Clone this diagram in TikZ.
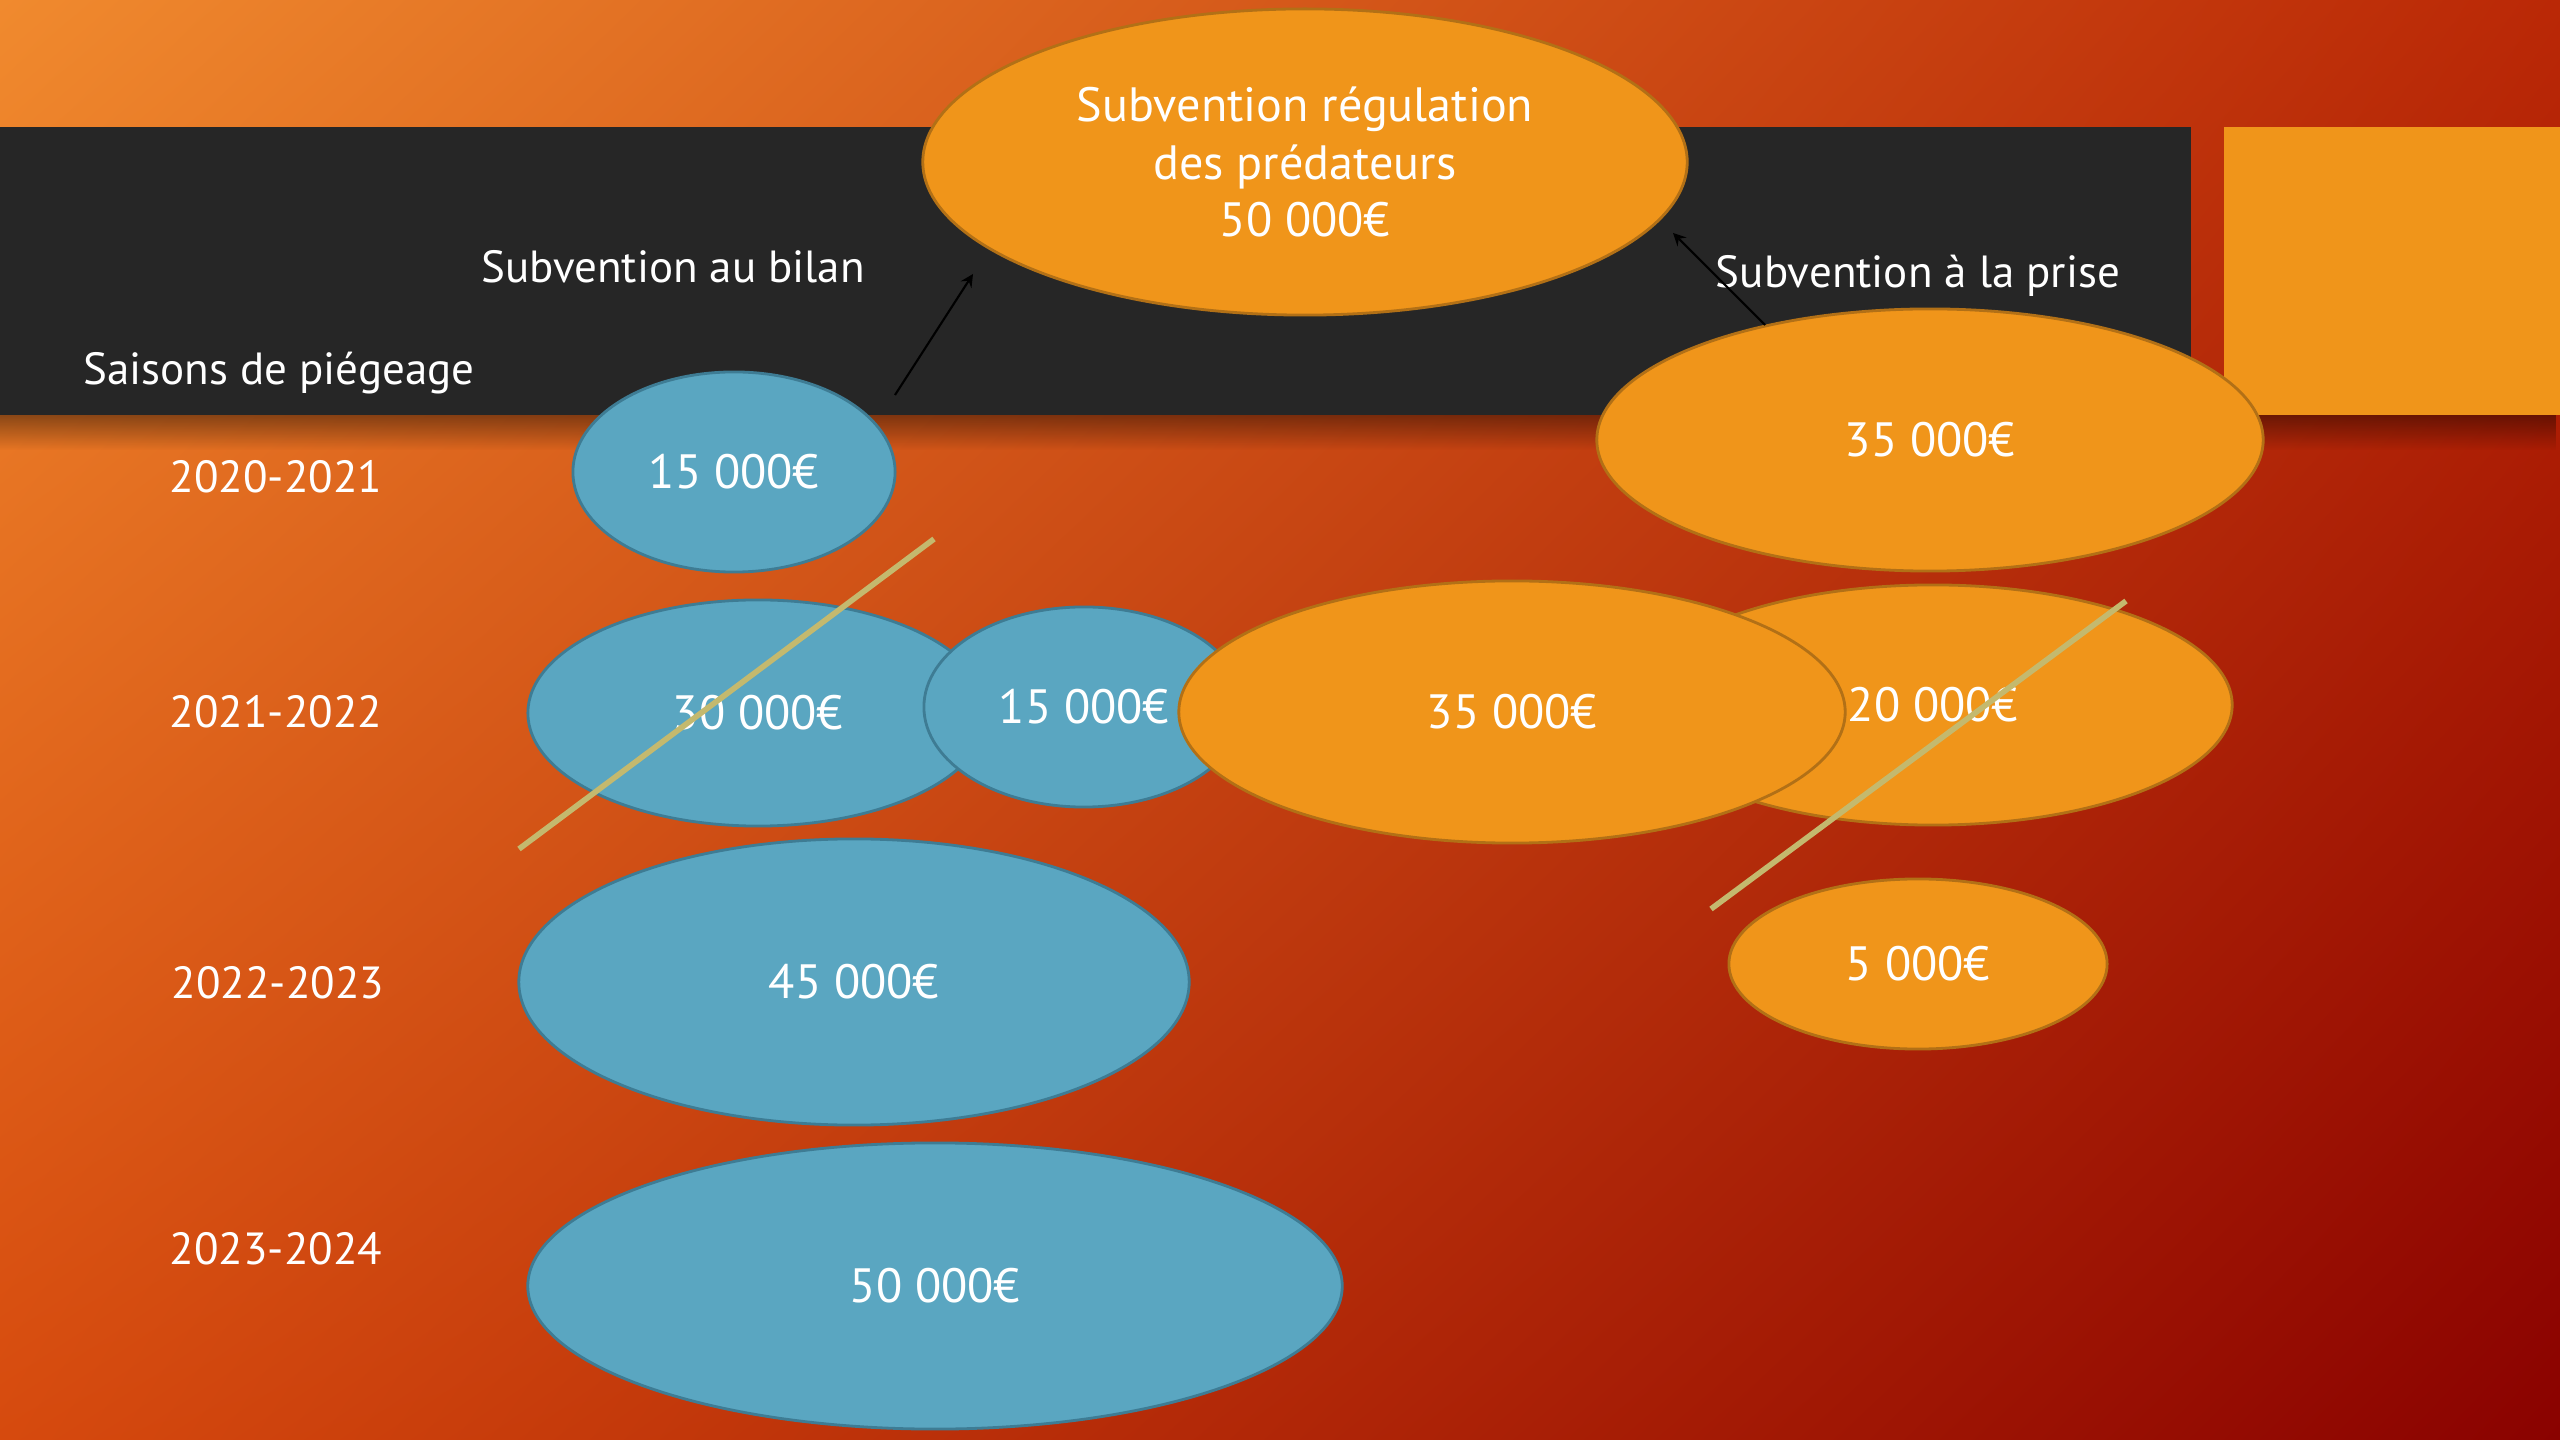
\documentclass[tikz,border=0pt]{standalone}
\usepackage{fontspec}
\setmainfont{PT Sans}
\usetikzlibrary{shapes.geometric}
\usetikzlibrary{fadings}
\usetikzlibrary{shadings}

\definecolor{bgtl}{RGB}{240,138,46}
\definecolor{bgtr}{RGB}{186,40,6}
\definecolor{bgbl}{RGB}{214,74,14}
\definecolor{bgbr}{RGB}{138,2,0}
\definecolor{bandgrey}{RGB}{38,38,38}
\definecolor{potorange}{RGB}{240,149,26}
\definecolor{potedge}{RGB}{178,112,22}
\definecolor{bilanblue}{RGB}{90,166,193}
\definecolor{bilanedge}{RGB}{62,124,148}
\definecolor{strike}{RGB}{196,185,110}

\tikzset{
    season/.style={text=white, font=\fontsize{12.8}{15}\selectfont},
    money/.style={ellipse, inner sep=0pt, text=white, line width=0.8pt, font=\fontsize{13.7}{16.3}\selectfont},
    bilan/.style={money, draw=bilanedge, fill=bilanblue},
    prise/.style={money, draw=potedge, fill=potorange},
    strikeout/.style={draw=strike, line width=1.6pt},
    pointer/.style={->, >=stealth, line width=0.6pt, black}
}

\begin{document}
\begin{tikzpicture}[x=0.01cm, y=-0.01cm]
                \useasboundingbox (0,0) rectangle (2560,1440);
                \shade[upper left=bgtl, upper right=bgtr, lower left=bgbl, lower right=bgbr] (0,0) rectangle (2560,1440);
                \fill[black, opacity=0.4, path fading=south] (0,415) rectangle (2560,450);
                \fill[bandgrey] (0,127) rectangle (2191,415);
                \fill[potorange] (2224,127) rectangle (2560,415);

                \node[prise, minimum width=7.64cm, minimum height=3.06cm, align=center] (total) at (1305,162) {Subvention régulation\\des prédateurs\\50 000€};
                \node[prise, minimum width=6.66cm, minimum height=2.62cm] (p2021) at (1930,440) {35 000€};

                \node[bilan, minimum width=3.22cm, minimum height=2.0cm] (b2021) at (734,472) {15 000€};
                \node[bilan, minimum width=4.6cm, minimum height=2.26cm] (b2122a) at (758,713) {30 000€};
                \node[bilan, minimum width=3.2cm, minimum height=2.0cm] (b2122b) at (1084,707) {15 000€};
                \node[prise, minimum width=5.98cm, minimum height=2.4cm] (p2122a) at (1933,705) {20 000€};
                \node[prise, minimum width=6.66cm, minimum height=2.62cm] (p2122b) at (1512,712) {35 000€};
                \node[bilan, minimum width=6.7cm, minimum height=2.86cm] (b2223) at (854,982) {45 000€};
                \node[prise, minimum width=3.78cm, minimum height=1.7cm] (p2223) at (1918,964) {5 000€};
                \node[bilan, minimum width=8.14cm, minimum height=2.86cm] (b2324) at (935,1286) {50 000€};

                \node[season] (saisons) at (279,373) {Saisons de piégeage};
                \node[season] (aubilan) at (673,267) {Subvention au bilan};
                \node[season] (alaprise) at (1918,276) {Subvention à la prise};
                \node[season] (y2021) at (276,477) {2020-2021};
                \node[season] (y2122) at (276,712) {2021-2022};
                \node[season] (y2223) at (278,983) {2022-2023};
                \node[season] (y2324) at (276,1249) {2023-2024};

                \coordinate (bilantail) at (895,395);
                \coordinate (bilanhead) at (973,274);
                \coordinate (prisetail) at (1765,325);
                \coordinate (prisehead) at (1673,233);
                \draw[pointer] (bilantail) -- (bilanhead);
                \draw[pointer] (prisetail) -- (prisehead);

                \coordinate (cutbilanA) at (519,849);
                \coordinate (cutbilanB) at (934,539);
                \coordinate (cutpriseA) at (1711,909);
                \coordinate (cutpriseB) at (2126,601);
                \draw[strikeout] (cutbilanA) -- (cutbilanB);
                \draw[strikeout] (cutpriseA) -- (cutpriseB);
            \end{tikzpicture}
\end{document}
